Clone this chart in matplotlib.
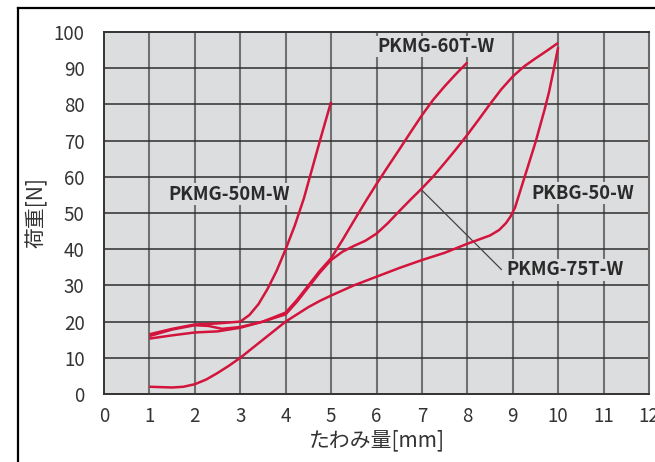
import matplotlib
matplotlib.use("Agg")
import matplotlib.pyplot as plt
from matplotlib.lines import Line2D

plt.rcParams['font.family'] = ['Noto Sans CJK JP', 'DejaVu Sans']

# ---- data ----
m50_x = [1, 1.5, 2, 2.5, 3, 3.2, 3.4, 3.6, 3.8, 4.0, 4.2, 4.4, 4.6, 4.8, 5.0]
m50_y = [16.5, 18.0, 19.2, 19.5, 20.0, 21.8, 24.8, 29.0, 34.0, 40.0, 46.5, 54.0, 63.0, 72.0, 80.7]

t60_x = [1, 1.5, 2, 2.5, 3, 3.5, 4, 4.25, 4.5, 4.75, 5, 5.25, 5.5, 5.75, 6, 6.25, 6.5,
         6.75, 7, 7.25, 7.5, 7.75, 8.0]
t60_y = [15.3, 16.2, 17.0, 17.3, 18.3, 20.0, 22.5, 26.0, 30.0, 34.0, 37.5, 42.5, 47.8,
         53.0, 58.0, 62.8, 67.5, 72.3, 77.0, 81.3, 85.0, 88.4, 91.6]

t75_x = [1, 1.5, 2, 2.3, 2.6, 3, 3.5, 4, 4.25, 4.5, 4.75, 5, 5.25, 5.5, 5.75, 6, 6.25,
         6.5, 6.75, 7, 7.25, 7.5, 7.75, 8, 8.25, 8.5, 8.75, 9, 9.25, 9.5, 9.75, 10.0]
t75_y = [16.0, 17.8, 19.0, 18.8, 18.0, 18.5, 20.0, 22.0, 25.5, 29.5, 33.5, 37.0, 39.3,
         40.9, 42.3, 44.3, 47.2, 50.5, 53.7, 56.8, 60.1, 63.8, 67.6, 71.6, 75.8, 80.1,
         84.2, 87.7, 90.5, 92.7, 94.8, 97.0]

b50_x = [1, 1.25, 1.5, 1.75, 2, 2.25, 2.5, 2.75, 3, 3.25, 3.5, 3.75, 4, 4.25, 4.5, 4.75,
         5, 5.5, 6, 6.5, 7, 7.5, 8, 8.5, 8.7, 8.85, 8.95, 9.05, 9.1, 9.2, 9.3, 9.4, 9.5,
         9.6, 9.7, 9.8, 9.9, 10.0]
b50_y = [2.0, 1.9, 1.8, 2.0, 2.7, 4.0, 5.8, 7.8, 10.0, 12.5, 15.0, 17.5, 20.0, 22.0,
         24.0, 25.7, 27.2, 30.0, 32.4, 34.8, 37.0, 39.0, 41.5, 43.8, 45.3, 47.2, 49.0,
         51.5, 53.5, 57.5, 61.5, 65.5, 69.5, 74.0, 78.5, 83.5, 89.5, 95.8]

x_ticks = list(range(0, 13))
y_ticks = list(range(0, 101, 10))

labels = ["PKMG-50M-W", "PKMG-60T-W", "PKBG-50-W", "PKMG-75T-W"]
label_pos = [(2.75, 55.2), (7.3, 96.0), (10.54, 55.4), (10.15, 34.3)]
leader = ((6.99, 56.4), (8.75, 34.4))

W, H = 655, 462
fig = plt.figure(figsize=(W / 100, H / 100), dpi=100)
ax = fig.add_axes([104 / W, 1 - 394 / H, (649 - 104) / W, (394 - 32) / H])

bg = '#dcdddf'
ax.set_facecolor(bg)
ax.set_xlim(0, 12)
ax.set_ylim(0, 100)
ax.set_xticks(x_ticks)
ax.set_yticks(y_ticks)
ax.tick_params(length=0, labelsize=13.5, labelcolor='#333333')
ax.tick_params(axis='x', pad=9)
ax.tick_params(axis='y', pad=14)

for xv in x_ticks[1:-1]:
    ax.axvline(xv, color='#707070', lw=1.5, zorder=1)
for yv in y_ticks[1:-1]:
    ax.axhline(yv, color='#2e2e2e', lw=1.1, zorder=1)

for s in ['left', 'bottom', 'top']:
    ax.spines[s].set_color('#333333')
    ax.spines[s].set_linewidth(1.4)
ax.spines['right'].set_color('#6a6a6a')
ax.spines['right'].set_linewidth(1.5)

red = '#d3143c'
for xs, ys in [(m50_x, m50_y), (t60_x, t60_y), (t75_x, t75_y), (b50_x, b50_y)]:
    ax.plot(xs, ys, color=red, lw=1.8, zorder=4, solid_capstyle='butt',
            solid_joinstyle='round')

ax.plot([leader[0][0], leader[1][0]], [leader[0][1], leader[1][1]],
        color='#444444', lw=0.9, zorder=3)

for txt, (lx, ly) in zip(labels, label_pos):
    ax.text(lx, ly, txt, ha='center', va='center', fontsize=13.3, fontweight='bold',
            color='#2b2b2b', zorder=5,
            bbox=dict(facecolor=bg, edgecolor='none', pad=1.0))

ax.set_xlabel('たわみ量[mm]', fontsize=15, color='#333333', labelpad=1)
ax.set_ylabel('荷重[N]', fontsize=15, color='#333333', labelpad=4)

# outer frame
fig.add_artist(Line2D([18 / W, 1], [1 - 8 / H, 1 - 8 / H], color='black', lw=1.6,
                      transform=fig.transFigure))
fig.add_artist(Line2D([18 / W, 18 / W], [1 - 8 / H, 0], color='black', lw=1.6,
                      transform=fig.transFigure))

fig.savefig('out.png', dpi=100, facecolor='white')
